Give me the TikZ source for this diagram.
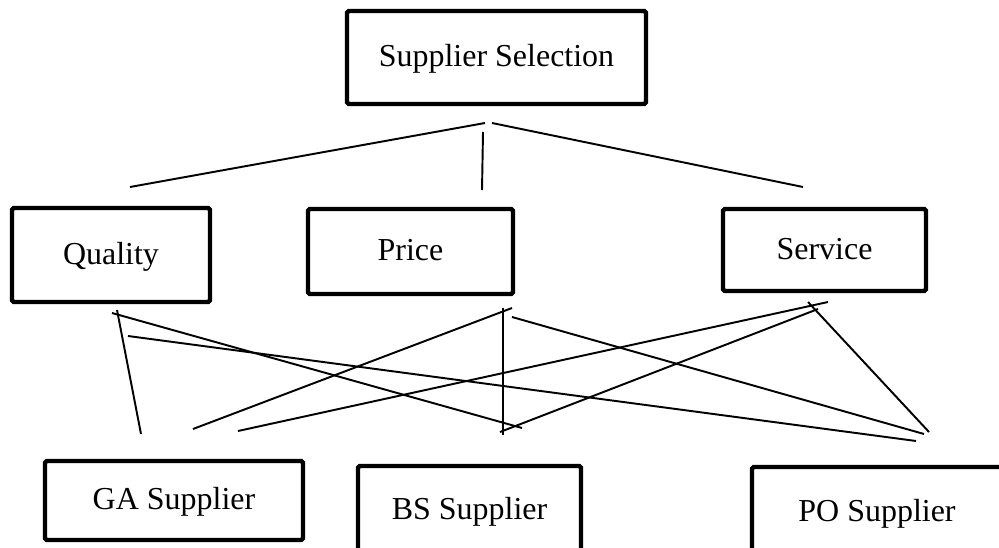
\documentclass[tikz,border=0pt]{standalone}
\usepackage{fontspec}
\setmainfont{Liberation Serif}
\usepackage{tikz}

\begin{document}
\begin{tikzpicture}[x=0.02cm,y=-0.02cm]
% Stile nodi
\tikzstyle{crit} = [
    rectangle,
    draw,
    line width=2.5pt,
    rounded corners=1pt,
    align=center,
    inner sep=0pt,
    text height=10.5pt,
    text depth=0pt,
    font=\fontsize{18.2pt}{22pt}\selectfont
]

\tikzstyle{link} = [
    line width=1.1pt
]

\useasboundingbox (0,0) rectangle (999,547);
\clip (0,0) rectangle (999,547);

% Nodi
\node[crit, minimum width=299*0.02cm, minimum height=93*0.02cm] (sel) at (496.5,57.5)
{Supplier Selection};

\node[crit, minimum width=198*0.02cm, minimum height=94*0.02cm] (qual) at (111,255)
{Quality};

\node[crit, minimum width=205*0.02cm, minimum height=85*0.02cm] (price) at (410.5,251.5)
{Price};

\node[crit, minimum width=203*0.02cm, minimum height=82*0.02cm] (serv) at (824.5,250)
{Service};

\node[crit, minimum width=258*0.02cm, minimum height=79*0.02cm] (ga) at (174,500.5)
{GA Supplier};

\node[crit, minimum width=223*0.02cm, minimum height=88*0.02cm] (bs) at (469.5,510)
{BS Supplier};

\node[crit, minimum width=250*0.02cm, minimum height=90*0.02cm] (po) at (877,512)
{PO Supplier};

% Punti
\coordinate (selL) at (485,123);
\coordinate (selM) at (483,132);
\coordinate (selR) at (492,123);
\coordinate (qualT) at (130,187);
\coordinate (priceT) at (482,190);
\coordinate (servT) at (803,187);

\coordinate (q1) at (117,310);
\coordinate (q2) at (112,313);
\coordinate (q3) at (128,336);
\coordinate (p1) at (512,308);
\coordinate (p2) at (503,308);
\coordinate (p3) at (512,317);
\coordinate (s1) at (828,302);
\coordinate (s2) at (818,309);
\coordinate (s3) at (808,302);

\coordinate (ga1) at (141,434);
\coordinate (ga2) at (193,429);
\coordinate (ga3) at (238,431);
\coordinate (bs1) at (522,428);
\coordinate (bs2) at (503,435);
\coordinate (bs3) at (500,432);
\coordinate (po1) at (916,441);
\coordinate (po2) at (924,434);
\coordinate (po3) at (929,432);

% Archi
\draw[link] (selL) -- (qualT);

\draw[link] (selM) -- (priceT);

\draw[link] (selR) -- (servT);

\draw[link] (q1) -- (ga1);

\draw[link] (q2) -- (bs1);

\draw[link] (q3) -- (po1);

\draw[link] (p1) -- (ga2);

\draw[link] (p2) -- (bs2);

\draw[link] (p3) -- (po2);

\draw[link] (s1) -- (ga3);

\draw[link] (s2) -- (bs3);

\draw[link] (s3) -- (po3);

\end{tikzpicture}
\end{document}
